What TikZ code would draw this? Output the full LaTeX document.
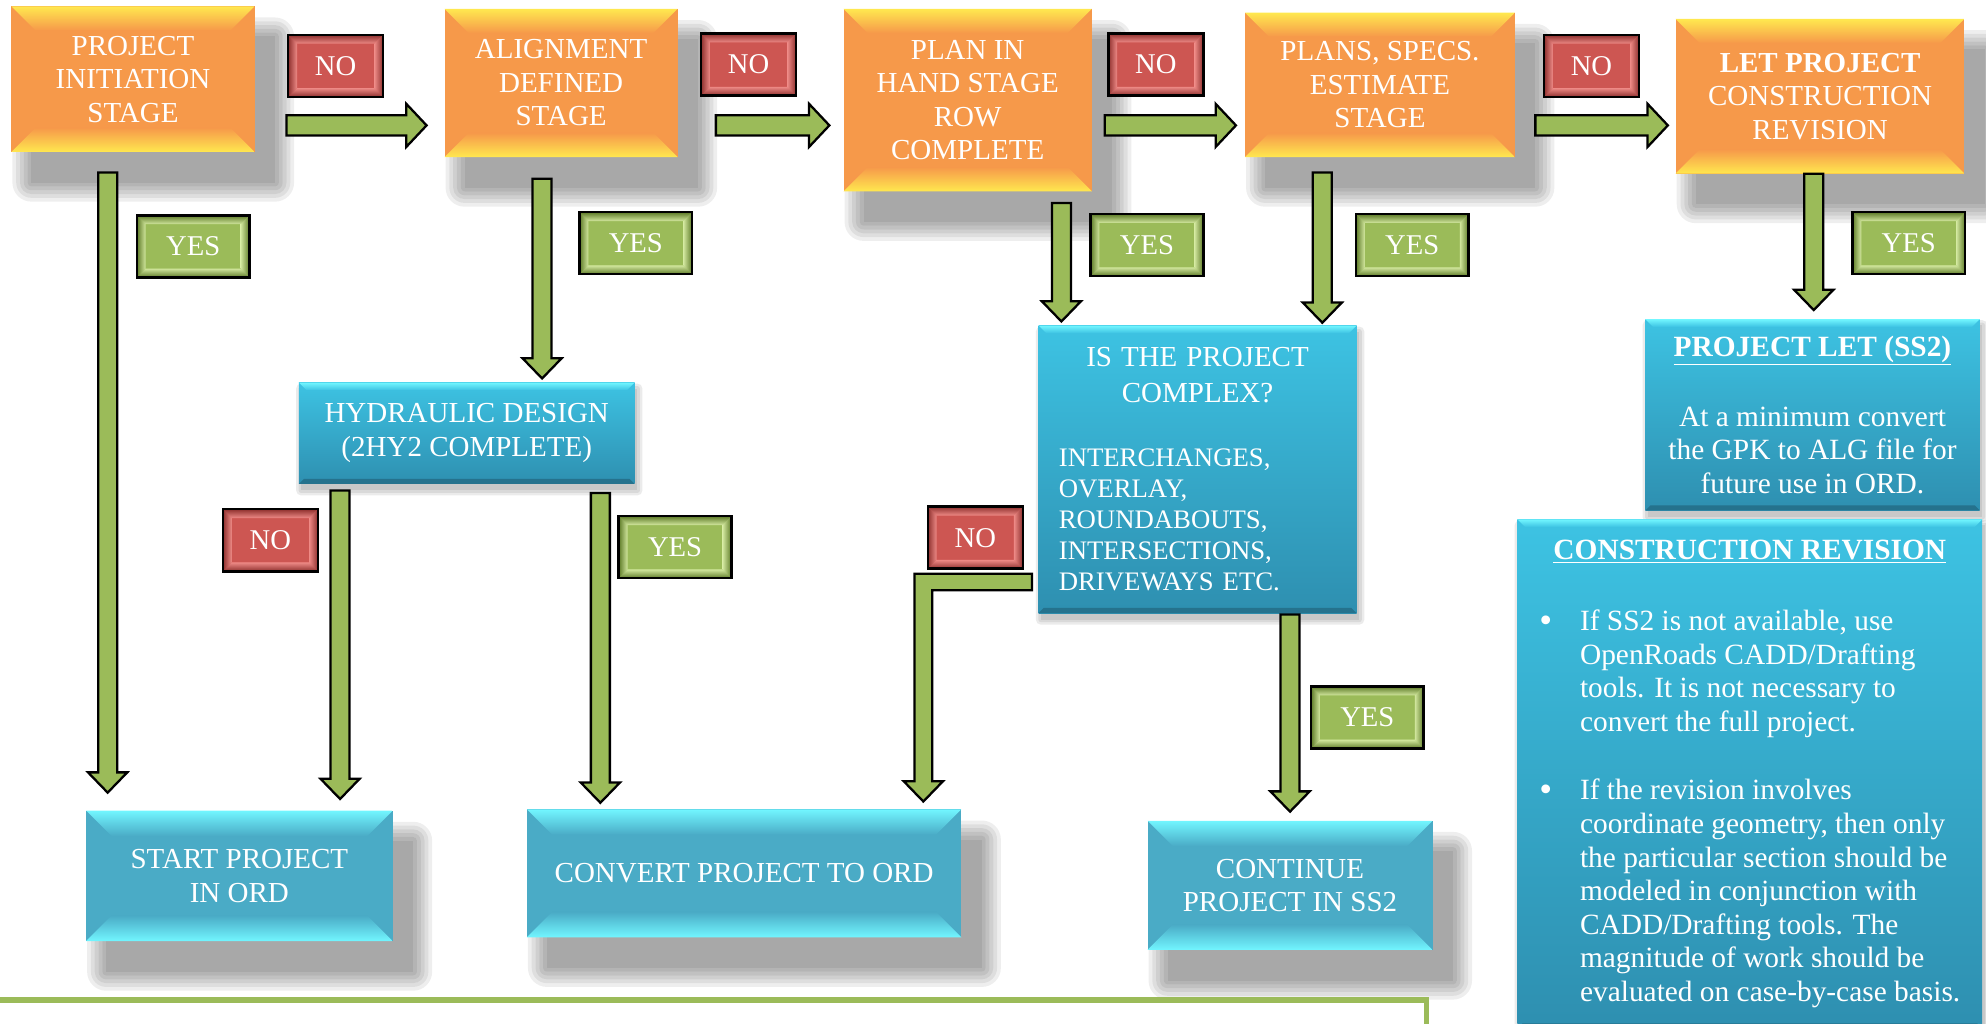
\documentclass[tikz,border=0pt]{standalone}
\usepackage{fontspec}
\setmainfont{Liberation Serif}
\usetikzlibrary{calc}

\pgfdeclarelayer{bg}
\pgfsetlayers{bg,main}

\definecolor{orbase}{HTML}{F6994A}
\definecolor{oredge}{HTML}{FFE84F}
\definecolor{cyanbase}{HTML}{4AABC6}
\definecolor{cyanedge}{HTML}{72F6FF}
\definecolor{bluetop}{HTML}{3DC3E3}
\definecolor{bluebot}{HTML}{2E8FB0}
\definecolor{redbase}{HTML}{CD5652}
\definecolor{reddark}{HTML}{8E302E}
\definecolor{redlight}{HTML}{EE8A86}
\definecolor{grnbase}{HTML}{9BBB59}
\definecolor{grndark}{HTML}{5D7A27}
\definecolor{grnlight}{HTML}{D2E79E}

\tikzset{
  bevelfill/.style n args={3}{% band, edge colour, face colour
    path picture={
      \coordinate (nw) at (path picture bounding box.north west);
      \coordinate (se) at (path picture bounding box.south east);
      \shade[top color=#2, bottom color=#3] (nw) -- (nw -| se) -- ($(nw -| se)+(-#1,#1)$) -- ($(nw)+(#1,#1)$) -- cycle;
      \shade[top color=#3, bottom color=#2] (nw |- se) -- (se) -- ($(se)+(-#1,-#1)$) -- ($(nw |- se)+(#1,-#1)$) -- cycle;
    }},
  labelbevel/.style n args={3}{% band, dark, light
    path picture={
      \coordinate (nw) at (path picture bounding box.north west);
      \coordinate (se) at (path picture bounding box.south east);
      \shade[top color=#2, bottom color=#3] (nw) -- (nw -| se) -- ($(nw -| se)+(-#1,#1)$) -- ($(nw)+(#1,#1)$) -- cycle;
      \shade[top color=#3, bottom color=#2] (nw |- se) -- (se) -- ($(se)+(-#1,-#1)$) -- ($(nw |- se)+(#1,-#1)$) -- cycle;
      \shade[left color=#2, right color=#3] (nw) -- ($(nw)+(#1,#1)$) -- ($(nw |- se)+(#1,-#1)$) -- (nw |- se) -- cycle;
      \shade[left color=#3, right color=#2] (nw -| se) -- ($(nw -| se)+(-#1,#1)$) -- ($(se)+(-#1,-#1)$) -- (se) -- cycle;
    }},
  glossy/.style={
    path picture={
      \coordinate (nw) at (path picture bounding box.north west);
      \coordinate (se) at (path picture bounding box.south east);
      \shade[top color=cyanedge, bottom color=bluetop] (nw) -- (nw -| se) -- ($(nw -| se)+(-6,6)$) -- ($(nw)+(6,6)$) -- cycle;
      \fill[bluebot!80!black] (nw |- se) -- (se) -- ($(se)+(-4,-4)$) -- ($(nw |- se)+(4,-4)$) -- cycle;
    }}
}

% block arrows: tail, tip, level
\newcommand{\blockright}[3]{%
  \draw[blockarrow] let \p1=(#1), \p2=(#2), \p3=(#3) in
    (\x1,\y3+8pt) -- (\x2-16pt,\y3+8pt) -- (\x2-16pt,\y3+17pt) -- (\x2,\y3)
    -- (\x2-16pt,\y3-17pt) -- (\x2-16pt,\y3-8pt) -- (\x1,\y3-8pt) -- cycle;}
% tail, tip (x from the tail)
\newcommand{\blockdown}[2]{%
  \draw[blockarrow] let \p1=(#1), \p2=(#2) in
    (\x1-7.5pt,\y1) -- (\x1-7.5pt,\y2+16pt) -- (\x1-15.5pt,\y2+16pt) -- (\x1,\y2)
    -- (\x1+15.5pt,\y2+16pt) -- (\x1+7.5pt,\y2+16pt) -- (\x1+7.5pt,\y1) -- cycle;}
% tail on the left of a box, then down to the tip
\newcommand{\blockelbow}[2]{%
  \draw[blockarrow] let \p1=(#1), \p2=(#2) in
    (\x1,\y1+6.5pt) -- (\x2-7pt,\y1+6.5pt) -- (\x2-7pt,\y2+16pt) -- (\x2-15.5pt,\y2+16pt) -- (\x2,\y2)
    -- (\x2+15.5pt,\y2+16pt) -- (\x2+7pt,\y2+16pt) -- (\x2+7pt,\y1-6.5pt) -- (\x1,\y1-6.5pt) -- cycle;}
\newcommand{\dotitem}{\raisebox{-1.5pt}{\fontsize{29}{26}\selectfont\textbullet}}

\begin{document}
\begin{tikzpicture}[x=1pt,y=-1pt]
    \tikzstyle{stage}=[rectangle,fill=orbase,text=white,align=center,font=\fontsize{22.9}{26.5}\selectfont,bevelfill={19}{oredge}{orbase}]
    \tikzstyle{outcome}=[rectangle,fill=cyanbase,text=white,align=center,font=\fontsize{22.9}{26.5}\selectfont,bevelfill={20}{cyanedge}{cyanbase}]
    \tikzstyle{infobox}=[rectangle,top color=bluetop,bottom color=bluebot,text=white,align=center,font=\fontsize{22.9}{26.5}\selectfont,glossy]
    \tikzstyle{nolabel}=[rectangle,draw=black,line width=2pt,fill=redbase,text=white,minimum width=75pt,minimum height=49pt,font=\fontsize{22.6}{26}\selectfont,labelbevel={7}{reddark}{redlight}]
    \tikzstyle{yeslabel}=[rectangle,draw=black,line width=2pt,fill=grnbase,text=white,minimum width=89pt,minimum height=49pt,font=\fontsize{22.6}{26}\selectfont,labelbevel={7}{grndark}{grnlight}]
    \tikzstyle{blockarrow}=[fill=grnbase,draw=black,line width=1.8pt,line join=miter]
    \useasboundingbox (0,0) rectangle (1568,808);
    \node (init) at (105,62.5) [stage,minimum width=192pt,minimum height=115pt] {PROJECT\\INITIATION\\STAGE};
    \node (align) at (443,65.5) [stage,minimum width=184pt,minimum height=117pt] {ALIGNMENT\\DEFINED\\STAGE};
    \node (plan) at (764,79) [stage,minimum width=196pt,minimum height=144pt] {PLAN IN\\HAND STAGE\\ROW\\COMPLETE};
    \node (pse) at (1089.5,67) [stage,minimum width=213pt,minimum height=114pt] {PLANS, SPECS.\\ESTIMATE\\STAGE};
    \node (letp) at (1437,76) [stage,minimum width=228pt,minimum height=122pt] {\textbf{LET PROJECT}\\CONSTRUCTION\\REVISION};
    \node (hyd) at (368.5,342) [infobox,minimum width=265pt,minimum height=80pt] {HYDRAULIC DESIGN\\(2HY2 COMPLETE)};
    \node (complex) at (945.5,370.5) [infobox,minimum width=251pt,minimum height=227pt,text width=219pt,align=left,font=\fontsize{21.1}{24.5}\selectfont]
      {\makebox[219pt]{\fontsize{22.9}{24.5}\selectfont IS THE PROJECT}\\[3.5pt]
       \makebox[219pt]{\fontsize{22.9}{24.5}\selectfont COMPLEX?}\\[26.5pt]
       INTERCHANGES,\\OVERLAY,\\ROUNDABOUTS,\\INTERSECTIONS,\\DRIVEWAYS ETC.};
    \node (projlet) at (1431,327.5) [infobox,minimum width=264pt,minimum height=151pt,font=\fontsize{23.2}{26.5}\selectfont]
      {\textbf{\underline{PROJECT LET (SS2)}}\\[28.5pt]At a minimum convert\\the GPK to ALG file for\\future use in ORD.};
    \node (consrev) at (1381.5,611) [infobox,minimum width=367pt,minimum height=402pt,font=\fontsize{23.2}{26.5}\selectfont]
      {\begin{tabular}{@{}l@{\hspace{22pt}}l@{}}
        \multicolumn{2}{c}{\textbf{\underline{CONSTRUCTION REVISION}}}\\[29.5pt]
        \dotitem & If SS2 is not available, use\\
         & OpenRoads CADD/Drafting\\
         & tools. It is not necessary to\\
         & convert the full project.\\[27.5pt]
        \dotitem & If the revision involves\\
         & coordinate geometry, then only\\
         & the particular section should be\\
         & modeled in conjunction with\\
         & CADD/Drafting tools. The\\
         & magnitude of work should be\\
         & evaluated on case-by-case basis.
       \end{tabular}};
    \node (startord) at (189,691.5) [outcome,minimum width=242pt,minimum height=103pt] {START PROJECT\\IN ORD};
    \node (convert) at (587.5,689.5) [outcome,minimum width=343pt,minimum height=101pt] {CONVERT PROJECT TO ORD};
    \node (contss) at (1018.5,699) [outcome,minimum width=225pt,minimum height=102pt] {CONTINUE\\PROJECT IN SS2};
    \node (no1) at (265,52) [nolabel] {NO};
    \node (no2) at (591,51) [nolabel] {NO};
    \node (no3) at (912.5,51) [nolabel] {NO};
    \node (no4) at (1256.5,52) [nolabel] {NO};
    \node (no5) at (213.5,426.5) [nolabel] {NO};
    \node (no6) at (770,424.5) [nolabel] {NO};
    \node (yes1) at (152.5,194.5) [yeslabel] {YES};
    \node (yes2) at (502,192) [yeslabel] {YES};
    \node (yes3) at (905.5,193.5) [yeslabel] {YES};
    \node (yes4) at (1115,193.5) [yeslabel] {YES};
    \node (yes5) at (1507,192) [yeslabel] {YES};
    \node (yes6) at (533,432) [yeslabel] {YES};
    \node (yes7) at (1079.5,566.5) [yeslabel] {YES};
    \coordinate (lvl) at (0,99);
    \blockright{$(init.east)+(25,0)$}{$(align.west)+(-14,0)$}{lvl}
    \blockright{$(align.east)+(30,0)$}{$(plan.west)+(-11,0)$}{lvl}
    \blockright{$(plan.east)+(10,0)$}{$(pse.west)+(-7,0)$}{lvl}
    \blockright{$(pse.east)+(16,0)$}{$(letp.west)+(-6,0)$}{lvl}
    \blockdown{$(init.south)+(-20,16)$}{$(startord.north)+(0,-14)$}
    \blockdown{$(align.south)+(-15,17)$}{$(hyd.north)+(0,-3)$}
    \blockdown{$(hyd.south)+(-100,5)$}{$(startord.north)+(0,-9)$}
    \blockdown{$(hyd.south)+(105.5,7)$}{$(convert.north)+(0,-5)$}
    \blockdown{$(plan.south)+(74,9)$}{$(complex.north)+(0,-3)$}
    \blockdown{$(pse.south)+(-45.5,12)$}{$(complex.north)+(0,-2)$}
    \blockdown{$(letp.south)+(-5,0)$}{$(projlet.north)+(0,-7)$}
    \blockdown{$(complex.south)+(73,1)$}{$(contss.north)+(0,-7)$}
    \blockelbow{$(complex.west)+(-5,89)$}{$(convert.north)+(141.5,-6)$}
    \draw[grnbase,line width=4pt] (0,789.5) -- (1126.5,789.5) -- (1126.5,812);
    \begin{pgfonlayer}{bg}
      \foreach \n in {init,align,plan,pse,letp,startord,convert,contss}
        \foreach \s in {0,3,...,15}
          \fill[black,opacity=.065,rounded corners=\s] ($(\n.north west)+(16-\s,24-\s)$) rectangle ($(\n.south east)+(16+\s,24+\s)$);
      \foreach \n in {hyd,complex,projlet,consrev}
        \foreach \s in {0,2,4}
          \fill[black,opacity=.08,rounded corners=\s] ($(\n.north west)+(2-\s,5-\s)$) rectangle ($(\n.south east)+(2+\s,5+\s)$);
    \end{pgfonlayer}
\end{tikzpicture}
\end{document}
